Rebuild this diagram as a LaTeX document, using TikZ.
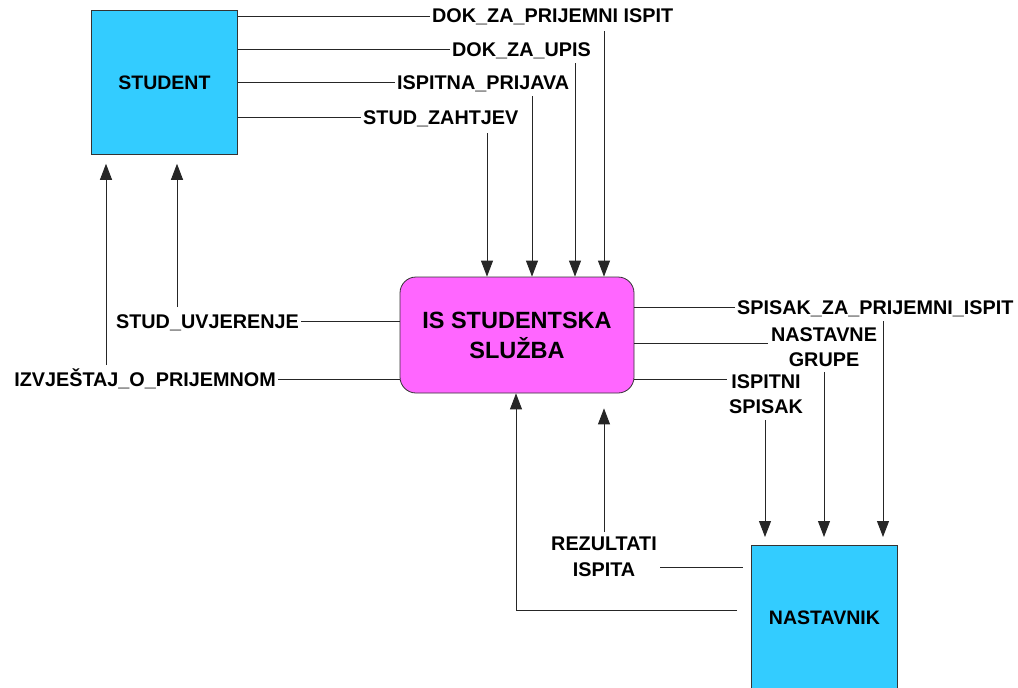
\documentclass[tikz,border=0pt]{standalone}
\usepackage{fontspec}
\setmainfont{Liberation Sans}
\usetikzlibrary{arrows.meta}
\definecolor{boxcyan}{HTML}{33CCFF}
\definecolor{procmag}{HTML}{FF66FF}
\begin{document}
\begin{tikzpicture}[x=1pt,y=-1pt,
  lbl/.style={font=\bfseries\fontsize{19.8}{26}\selectfont, inner sep=0pt, text height=14pt, text depth=0pt},
  mlbl/.style={font=\bfseries\fontsize{19.8}{25.5}\selectfont, inner sep=0pt, align=center, anchor=north},
  flow/.style={line width=0.9pt, draw=black!85},
  arr/.style={flow, -{Triangle[length=16pt,width=12pt]}},
  ext/.style={draw=black!80, line width=0.8pt, fill=boxcyan, inner sep=0pt, anchor=north west,
    minimum width=146pt, minimum height=144pt, font=\bfseries\fontsize{19.5}{24}\selectfont},
  proc/.style={draw=black!80, line width=0.8pt, fill=procmag, rounded corners=16pt, align=center,
    minimum width=234pt, minimum height=116pt, inner sep=0pt, font=\bfseries\fontsize{23.5}{30}\selectfont}
]
\useasboundingbox (0,0) rectangle (1018,688);

% boxes
\node[ext] (stu) at (91,10) {STUDENT};
\node[ext] (nas) at (751,545) {NASTAVNIK};
\node[proc] (is) at (517,335) {IS STUDENTSKA\\SLUŽBA};

% top flows from STUDENT
\node[lbl, anchor=west] (dzp) at (432,16) {DOK\_ZA\_PRIJEMNI ISPIT};
\node[lbl, anchor=west] (dzu) at (452,49) {DOK\_ZA\_UPIS};
\node[lbl, anchor=west] (ipr) at (397,82) {ISPITNA\_PRIJAVA};
\node[lbl, anchor=west] (szh) at (363,117) {STUD\_ZAHTJEV};
\draw[flow] (stu.east |- dzp.west) -- ([xshift=-2pt]dzp.west);
\draw[flow] (stu.east |- dzu.west) -- ([xshift=-2pt]dzu.west);
\draw[flow] (stu.east |- ipr.west) -- ([xshift=-2pt]ipr.west);
\draw[flow] (stu.east |- szh.west) -- ([xshift=-2pt]szh.west);
\coordinate (v1) at (604,31);
\coordinate (v2) at (575,63);
\coordinate (v3) at (532,96);
\coordinate (v4) at (487,133);
\draw[arr] (v1) -- (v1 |- is.north);
\draw[arr] (v2) -- (v2 |- is.north);
\draw[arr] (v3) -- (v3 |- is.north);
\draw[arr] (v4) -- (v4 |- is.north);

% right flows to NASTAVNIK
\node[lbl, anchor=west] (szp) at (737,307) {SPISAK\_ZA\_PRIJEMNI\_ISPIT};
\node[mlbl] (ngr) at (824,327) {NASTAVNE\\GRUPE};
\node[mlbl] (isp) at (766,374) {ISPITNI\\SPISAK};
\draw[flow] (is.east |- szp.west) -- ([xshift=-2pt]szp.west);
\coordinate (ng) at (768,343);
\coordinate (ic) at (727,379);
\draw[flow] (is.east |- ng) -- (ng);
\draw[flow] (is.east |- ic) -- (ic);
\coordinate (v5) at (883,321);
\coordinate (v6) at (824,372);
\coordinate (v7) at (765,420);
\draw[arr, shorten >=8pt] (v5) -- (v5 |- nas.north);
\draw[arr, shorten >=8pt] (v6) -- (v6 |- nas.north);
\draw[arr, shorten >=8pt] (v7) -- (v7 |- nas.north);

% left flows to STUDENT
\node[lbl, anchor=east] (suv) at (299,321) {STUD\_UVJERENJE};
\node[lbl, anchor=east] (izv) at (276,379) {IZVJEŠTAJ\_O\_PRIJEMNOM};
\draw[flow] ([xshift=2pt]suv.east) -- (is.west |- suv.east);
\draw[flow] ([xshift=2pt]izv.east) -- (is.west |- izv.east);
\coordinate (v8) at (177,307);
\coordinate (v9) at (106,365);
\draw[arr, shorten >=9pt] (v8) -- (v8 |- stu.south);
\draw[arr, shorten >=9pt] (v9) -- (v9 |- stu.south);

% bottom flows from NASTAVNIK
\node[mlbl] (rez) at (604,537) {REZULTATI\\ISPITA};
\coordinate (rz) at (660,567);
\draw[flow, shorten >=8pt] (rz) -- (nas.west |- rz);
\coordinate (v10) at (604,532);
\draw[arr, shorten >=15pt] (v10) -- (v10 |- is.south);
\coordinate (c1) at (516,610);
\draw[arr, shorten <=14pt] (nas.west |- c1) -- (c1) -- (c1 |- is.south);
\end{tikzpicture}
\end{document}
